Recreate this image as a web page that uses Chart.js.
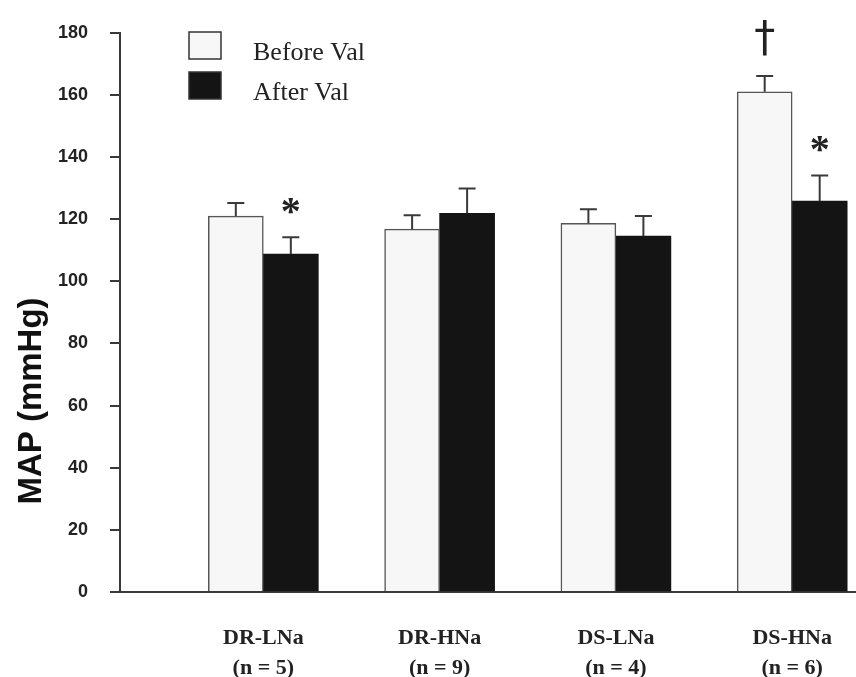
<!DOCTYPE html>
<html>
<head>
<meta charset="utf-8">
<script src="https://cdn.jsdelivr.net/npm/chart.js@4.4.1/dist/chart.umd.min.js"></script>
<style>
    html, body { margin: 0; padding: 0; background: #fff; }
    #wrap { width: 856px; height: 677px; }
</style>
</head>
<body>
<div id="wrap"><canvas id="mapChart" width="856" height="677"></canvas></div>
<script>
// Groups along the x axis
const groups = ['DR-LNa', 'DR-HNa', 'DS-LNa', 'DS-HNa'];
const groupN = ['(n = 5)', '(n = 9)', '(n = 4)', '(n = 6)'];
const groupPos = [1, 2, 3, 4];

// MAP (mmHg), mean and upward SE
const beforeVal = [121, 116.8, 118.7, 161];
const beforeErr = [4.2, 4.5, 4.5, 5.1];
const afterVal = [108.8, 121.9, 114.6, 125.8];
const afterErr = [5.4, 8.0, 6.4, 8.3];

// significance marks above each bar
const beforeMarks = ['', '', '', '†'];
const afterMarks = ['*', '', '', '*'];

const yTicks = [0, 20, 40, 60, 80, 100, 120, 140, 160, 180];

const AXIS_COLOR = '#3a3a3a';

// error bars + marks drawn on top of the bars
const errorBarPlugin = {
    id: 'errorBars',
    afterDatasetsDraw(chart) {
        const ctx = chart.ctx;
        const y = chart.scales.y;
        ctx.save();
        chart.data.datasets.forEach((ds, di) => {
            const meta = chart.getDatasetMeta(di);
            meta.data.forEach((bar, i) => {
                const top = y.getPixelForValue(ds.values[i] + ds.errors[i]);
                ctx.strokeStyle = AXIS_COLOR;
                ctx.lineWidth = 2;
                ctx.beginPath();
                ctx.moveTo(bar.x, bar.y);
                ctx.lineTo(bar.x, top);
                ctx.moveTo(bar.x - 8.5, top);
                ctx.lineTo(bar.x + 8.5, top);
                ctx.stroke();
                const mark = ds.marks[i];
                if (mark) {
                    ctx.fillStyle = '#222';
                    ctx.textAlign = 'center';
                    ctx.textBaseline = 'middle';
                    if (mark === '*') {
                        ctx.font = 'bold 40px "Liberation Serif"';
                        ctx.fillText(mark, bar.x, top - 24);
                    } else {
                        ctx.font = '42px "DejaVu Sans"';
                        ctx.fillText(mark, bar.x, top - 36);
                    }
                }
            });
        });
        ctx.restore();
    }
};

// legend box in the upper left + rotated y title
const decorPlugin = {
    id: 'decor',
    afterDraw(chart) {
        const ctx = chart.ctx;
        ctx.save();
        chart.data.datasets.forEach((ds, di) => {
            const top = 32 + di * 40;
            ctx.fillStyle = ds.backgroundColor;
            ctx.fillRect(189, top, 32, 27);
            ctx.strokeStyle = '#333';
            ctx.lineWidth = 1.5;
            ctx.strokeRect(189, top, 32, 27);
            ctx.fillStyle = '#222';
            ctx.font = '26px "Liberation Serif"';
            ctx.textAlign = 'left';
            ctx.textBaseline = 'alphabetic';
            ctx.fillText(ds.label, 253, top + 28);
        });

        ctx.translate(32, 401);
        ctx.rotate(-Math.PI / 2);
        ctx.font = 'bold 33px "Liberation Sans"';
        ctx.fillStyle = '#111';
        ctx.textAlign = 'center';
        ctx.textBaseline = 'middle';
        ctx.fillText('MAP (mmHg)', 0, 0);
        ctx.restore();
    }
};

function toPoints(values) {
    return values.map((v, i) => ({ x: groupPos[i], y: v }));
}

const ctx = document.getElementById('mapChart').getContext('2d');
new Chart(ctx, {
    type: 'bar',
    data: {
        datasets: [{
            label: 'Before Val',
            data: toPoints(beforeVal),
            values: beforeVal,
            errors: beforeErr,
            marks: beforeMarks,
            backgroundColor: '#f7f7f7',
            borderColor: '#555',
            borderWidth: 1.5
        }, {
            label: 'After Val',
            data: toPoints(afterVal),
            values: afterVal,
            errors: afterErr,
            marks: afterMarks,
            backgroundColor: '#141414',
            borderColor: '#141414',
            borderWidth: 0
        }]
    },
    options: {
        responsive: false,
        animation: false,
        barThickness: 55,
        layout: { padding: { top: 29, right: 0, left: 0, bottom: 0 } },
        plugins: {
            legend: { display: false },
            tooltip: { enabled: false }
        },
        scales: {
            x: {
                type: 'linear',
                offset: false,
                min: 0.187,
                max: 4.362,
                afterBuildTicks: (scale) => {
                    scale.ticks = groupPos.map(v => ({ value: v }));
                },
                afterFit: (scale) => {
                    scale.height = 85;
                    scale.paddingLeft = 0;
                    scale.paddingRight = 0;
                },
                grid: { display: false, drawTicks: false },
                border: { display: true, color: AXIS_COLOR, width: 2 },
                ticks: {
                    padding: 31,
                    autoSkip: false,
                    maxRotation: 0,
                    color: '#222',
                    font: { family: 'Liberation Serif', size: 22, weight: 'bold', lineHeight: 1.36 },
                    callback: (value) => {
                        const i = groupPos.indexOf(value);
                        return i < 0 ? '' : [groups[i], groupN[i]];
                    }
                }
            },
            y: {
                min: 0,
                max: 180,
                afterBuildTicks: (scale) => {
                    scale.ticks = yTicks.map(v => ({ value: v }));
                },
                afterFit: (scale) => { scale.width = 120; },
                grid: { drawOnChartArea: false, tickLength: 10, color: AXIS_COLOR, lineWidth: 2 },
                border: { display: true, color: AXIS_COLOR, width: 2 },
                ticks: {
                    padding: 22,
                    color: '#222',
                    font: { family: 'Liberation Sans', size: 18, weight: 'bold' }
                }
            }
        }
    },
    plugins: [errorBarPlugin, decorPlugin]
});
</script>
</body>
</html>
